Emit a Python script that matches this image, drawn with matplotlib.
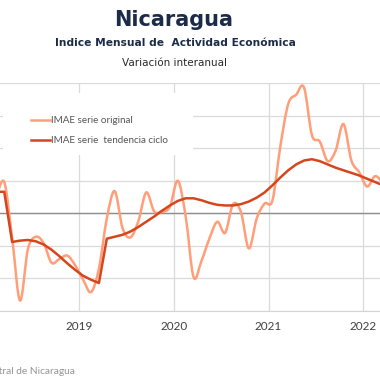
import matplotlib
matplotlib.use("Agg")
import matplotlib.pyplot as plt
from matplotlib.path import Path
from matplotlib.patches import PathPatch, Rectangle
from matplotlib.lines import Line2D

# ---- data (monthly, Feb 2018 .. Mar 2022) ----
months = ["2018-02", "2018-03", "2018-04", "2018-05", "2018-06", "2018-07", "2018-08",
          "2018-09", "2018-10", "2018-11", "2018-12",
          "2019-01", "2019-02", "2019-03", "2019-04", "2019-05", "2019-06", "2019-07",
          "2019-08", "2019-09", "2019-10", "2019-11", "2019-12",
          "2020-01", "2020-02", "2020-03", "2020-04", "2020-05", "2020-06", "2020-07",
          "2020-08", "2020-09", "2020-10", "2020-11", "2020-12",
          "2021-01", "2021-02", "2021-03", "2021-04", "2021-05", "2021-06", "2021-07",
          "2021-08", "2021-09", "2021-10", "2021-11", "2021-12",
          "2022-01", "2022-02", "2022-03"]
imae_original = [2.5, 4.8, -3.8, -13.4, -5.5, -3.6, -4.6, -7.6, -7.0, -6.5, -8.0,
                 -10.2, -12.1, -8.5, -0.8, 3.4, -2.3, -3.7, -1.2, 3.2, 0.3, 0.2, 1.0,
                 5.0, -0.5, -9.8, -7.3, -3.9, -1.3, -3.0, 1.4, 0.2, -5.4, -0.8, 1.5,
                 2.0, 10.3, 16.8, 18.2, 19.3, 12.0, 11.0, 8.0, 9.6, 13.7, 8.1, 6.3,
                 4.1, 5.7, 4.7]
imae_tendencia = [3.3, 3.3, -4.4, -4.2, -4.1, -4.3, -4.8, -5.6, -6.6, -7.7, -8.7,
                  -9.6, -10.2, -10.7, -3.9, -3.6, -3.3, -2.8, -2.1, -1.3, -0.5, 0.4, 1.2,
                  1.9, 2.3, 2.3, 2.0, 1.6, 1.3, 1.2, 1.2, 1.4, 1.8, 2.4, 3.2,
                  4.3, 5.5, 6.6, 7.5, 8.1, 8.3, 8.0, 7.5, 7.0, 6.6, 6.2, 5.8,
                  5.3, 4.8, 4.3]
year_ticks = [2019, 2020, 2021, 2022]
year_labels = ["2019", "2020", "2021", "2022"]
legend_labels = ["IMAE serie original", "IMAE serie  tendencia ciclo"]

C_ORIG = "#FF9E78"
C_TREND = "#D4461C"
NAVY = "#1C2B48"
LIGHT_FONT = ["Lato", "DejaVu Sans"]

# x position of each month (mid-month, in fractional years)
xs = [int(s[:4]) + (int(s[5:]) - 1) / 12 + 1 / 24 for s in months]

fig = plt.figure(figsize=(3.8, 3.8), dpi=100)
W = H = 380.0
# axes extend beyond the figure (chart is cropped in the reference)
px_2019, px_per_year = 79.2, 94.67
left_px = px_2019 - px_per_year          # 2018
right_px = px_2019 + 4 * px_per_year     # 2023
ax = fig.add_axes([left_px / W, (H - 311) / H, (right_px - left_px) / W, (311 - 83) / H])
ax.set_xlim(2018, 2023)
ax.set_ylim(-15, 20)

# grid
ax.set_yticks([-15, -10, -5, 0, 5, 10, 15, 20])
ax.set_xticks(year_ticks)
ax.set_xticklabels(year_labels, family=LIGHT_FONT)
ax.grid(True, color="#DADADA", linewidth=0.9)
ax.set_axisbelow(True)
ax.axhline(0, color="#8E8E8E", linewidth=1.0, zorder=1)
for s in ["left", "right", "top"]:
    ax.spines[s].set_visible(False)
ax.spines["bottom"].set_color("#D5D5D5")
ax.tick_params(axis="y", left=False, labelleft=False)
ax.tick_params(axis="x", length=0, pad=7, labelsize=8.5, labelcolor="#404040")

# smoothed original series (Bezier through monthly points)
def smooth_path(x, y):
    pts = list(zip(x, y))
    verts = [pts[0]]
    codes = [Path.MOVETO]
    n = len(pts)
    for i in range(n - 1):
        p0 = pts[i - 1] if i > 0 else pts[i]
        p1 = pts[i]
        p2 = pts[i + 1]
        p3 = pts[i + 2] if i + 2 < n else pts[i + 1]
        c1 = (p1[0] + (p2[0] - p0[0]) / 6, p1[1] + (p2[1] - p0[1]) / 6)
        c2 = (p2[0] - (p3[0] - p1[0]) / 6, p2[1] - (p3[1] - p1[1]) / 6)
        verts += [c1, c2, p2]
        codes += [Path.CURVE4] * 3
    return Path(verts, codes)

ax.add_patch(PathPatch(smooth_path(xs, imae_original), facecolor="none",
                       edgecolor=C_ORIG, linewidth=1.8, zorder=3, capstyle="round",
                       joinstyle="round"))
ax.plot(xs, imae_tendencia, color=C_TREND, linewidth=1.8, zorder=4,
        solid_joinstyle="round")

# legend background box
ax.add_patch(Rectangle((3 / W, (H - 155) / H), 190 / W, 62 / H, transform=fig.transFigure,
                       facecolor="white", edgecolor="none", zorder=2.5, clip_on=False))
handles = [Line2D([], [], color=C_ORIG, linewidth=1.8),
           Line2D([], [], color=C_TREND, linewidth=1.8)]
leg = ax.legend(handles, legend_labels, loc="upper left",
                bbox_to_anchor=(31 / W, (H - 116) / H), bbox_transform=fig.transFigure,
                frameon=False, prop={"family": LIGHT_FONT, "size": 7.1},
                handlelength=1.9, handletextpad=0.15,
                labelspacing=1.15, borderpad=0, borderaxespad=0)
for t in leg.get_texts():
    t.set_color("#555555")

# titles
fig.text(174 / W, 1 - 20 / H, "Nicaragua", ha="center", va="center",
         fontsize=15, fontweight="bold", color=NAVY)
fig.text(175 / W, 1 - 43 / H, "Indice Mensual de  Actividad Económica", ha="center",
         va="center", fontsize=7.7, fontweight="bold", color=NAVY)
fig.text(175 / W, 1 - 63 / H, "Variación interanual", ha="center", va="center",
         fontsize=7.5, color="#2A2A2A")
fig.text(75 / W, 1 - 372 / H, "Fuente: Banco Central de Nicaragua", ha="right",
         va="center", fontsize=7.3, color="#949494", family=LIGHT_FONT)

fig.savefig("out.png", dpi=100)
